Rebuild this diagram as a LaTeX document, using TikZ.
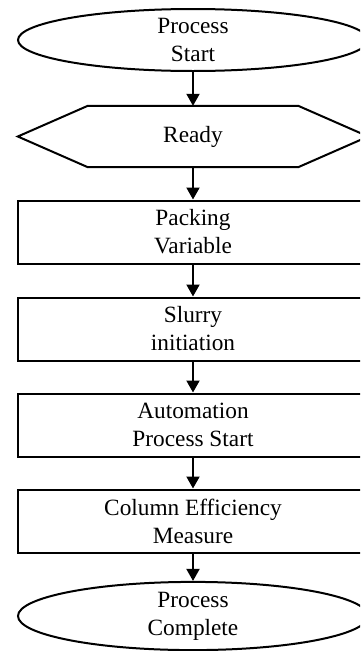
\documentclass[tikz,border=0pt]{standalone}
\usepackage{fontspec}
\setmainfont{Liberation Serif}
\usetikzlibrary{shapes.geometric,arrows.meta}
\tikzset{
  base/.style={draw=none, align=center, font=\fontsize{23.3}{28}\selectfont, inner sep=0pt},
  term/.style={base, ellipse, draw, line width=2pt, minimum width=350pt, minimum height=62pt},
  stepbox/.style={base, rectangle, draw, line width=2pt, minimum width=350pt, minimum height=63pt},
  hexbox/.style={base, rectangle, minimum width=210pt, minimum height=61pt},
  conn/.style={line width=2pt, -{Triangle[length=12pt,width=13pt]}}
}
\begin{document}
\begin{tikzpicture}[x=1pt,y=-1pt]
\clip (0,0) rectangle (360,651);
\fill[white] (0,0) rectangle (360,651);
\node[term] (start) at (193,40) {Process\\Start};
\node[hexbox] (ready) at (193,136.5) {Ready};
\draw[line width=2pt, line join=miter] (ready.north west) -- (ready.north east) -- ([xshift=70pt]ready.east) -- (ready.south east) -- (ready.south west) -- ([xshift=-70pt]ready.west) -- cycle;
\node[stepbox] (pack) at (193,232) {Packing\\Variable};
\node[stepbox] (slurry) at (193,329) {Slurry\\initiation};
\node[stepbox] (auto) at (193,425) {Automation\\Process Start};
\node[stepbox] (col) at (193,521) {Column Efficiency\\Measure};
\node[term] (done) at (193,616) {Process\\Complete};
\draw[conn] (start) -- (ready);
\draw[conn] (ready) -- (pack);
\draw[conn] (pack) -- (slurry);
\draw[conn] (slurry) -- (auto);
\draw[conn] (auto) -- (col);
\draw[conn] (col) -- (done);
\end{tikzpicture}
\end{document}
